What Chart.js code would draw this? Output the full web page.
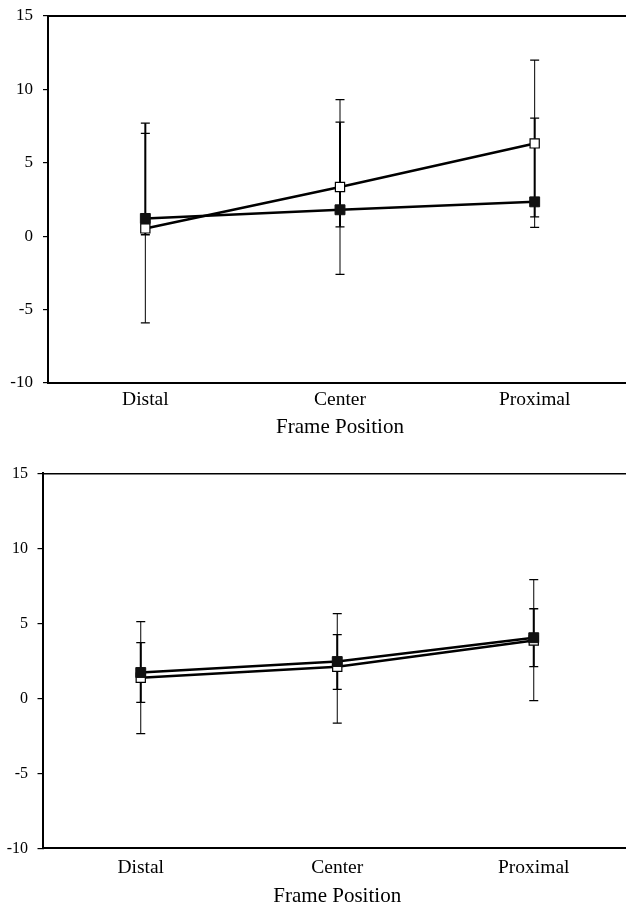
<!DOCTYPE html>
<html lang="en">
<head>
<meta charset="UTF-8">
<title>Frame Position</title>
<script src="https://cdn.jsdelivr.net/npm/chart.js"></script>
<style>
    html, body {
        margin: 0;
        padding: 0;
        background: #fff;
        overflow: hidden;
    }
    .wrap {
        position: relative;
        width: 626px;
        height: 907px;
        overflow: hidden;
    }
    canvas {
        position: absolute;
        left: 0;
    }
    #topChart { top: 0; }
    #bottomChart { top: 430px; }
</style>
</head>
<body>
<div class="wrap">
    <canvas id="topChart" width="640" height="450"></canvas>
    <canvas id="bottomChart" width="640" height="480"></canvas>
</div>

<script>
    // categories and y axis
    const positions = ['Distal', 'Center', 'Proximal'];
    const yMin = -10;
    const yMax = 15;
    const yStep = 5;

    // upper panel
    const topFilled = [1.21, 1.80, 2.34];
    const topFilledLow = [0.1, 0.64, 1.32];
    const topFilledHigh = [7.7, 7.77, 8.04];
    const topOpen = [0.53, 3.35, 6.32];
    const topOpenLow = [-5.9, -2.6, 0.6];
    const topOpenHigh = [7.0, 9.3, 12.0];

    // lower panel
    const botFilled = [1.72, 2.45, 4.04];
    const botFilledLow = [-0.27, 0.6, 2.11];
    const botFilledHigh = [3.71, 4.24, 5.97];
    const botOpen = [1.37, 2.1, 3.85];
    const botOpenLow = [-2.36, -1.65, -0.16];
    const botOpenHigh = [5.11, 5.64, 7.91];

    Chart.defaults.font.family = "'Liberation Serif', 'Times New Roman', serif";
    Chart.defaults.color = '#000';

    // vertical error bars with caps, drawn under the lines and markers
    const errorBars = {
        id: 'errorBars',
        beforeDatasetsDraw(chart) {
            const ctx = chart.ctx;
            const y = chart.scales.y;
            for (let i = chart.data.datasets.length - 1; i >= 0; i--) {
                const ds = chart.data.datasets[i];
                const meta = chart.getDatasetMeta(i);
                ctx.save();
                ctx.strokeStyle = '#000';
                meta.data.forEach((pt, j) => {
                    const lo = y.getPixelForValue(ds.errLow[j]);
                    const hi = y.getPixelForValue(ds.errHigh[j]);
                    ctx.lineWidth = ds.errWidth;
                    ctx.beginPath();
                    ctx.moveTo(pt.x, lo);
                    ctx.lineTo(pt.x, hi);
                    ctx.stroke();
                    ctx.lineWidth = 1.3;
                    ctx.beginPath();
                    ctx.moveTo(pt.x - 4.5, lo);
                    ctx.lineTo(pt.x + 4.5, lo);
                    ctx.moveTo(pt.x - 4.5, hi);
                    ctx.lineTo(pt.x + 4.5, hi);
                    ctx.stroke();
                });
                ctx.restore();
            }
        }
    };

    function makeChart(id, filled, fLow, fHigh, open, oLow, oHigh, s) {
        return new Chart(document.getElementById(id), {
            type: 'line',
            data: {
                labels: positions,
                datasets: [{
                    label: 'filled',
                    data: filled,
                    errLow: fLow,
                    errHigh: fHigh,
                    errWidth: 2,
                    borderColor: '#000',
                    borderWidth: 2.5,
                    tension: 0,
                    pointStyle: 'rect',
                    pointRadius: 7,
                    pointBackgroundColor: '#111',
                    pointBorderColor: '#111',
                    pointBorderWidth: 1
                }, {
                    label: 'open',
                    data: open,
                    errLow: oLow,
                    errHigh: oHigh,
                    errWidth: 1,
                    borderColor: '#000',
                    borderWidth: 2.5,
                    tension: 0,
                    pointStyle: 'rect',
                    pointRadius: 6.5,
                    pointBackgroundColor: '#fff',
                    pointBorderColor: '#000',
                    pointBorderWidth: 1.2
                }]
            },
            options: {
                responsive: false,
                animation: false,
                layout: { padding: { top: s.padTop, left: 0, right: s.padRight, bottom: s.padBottom } },
                plugins: {
                    legend: { display: false },
                    tooltip: { enabled: false }
                },
                scales: {
                    x: {
                        type: 'category',
                        offset: true,
                        grid: { display: false, drawTicks: false },
                        border: { color: '#000', width: 2 },
                        ticks: {
                            font: { size: 19.5 },
                            padding: s.xPad,
                            maxRotation: 0,
                            autoSkip: false
                        },
                        title: {
                            display: true,
                            text: 'Frame Position',
                            font: { size: 21 },
                            padding: 0
                        },
                        afterFit(scale) { scale.height = s.xHeight; }
                    },
                    xTop: {
                        type: 'category',
                        position: 'top',
                        offset: true,
                        grid: { display: false, drawTicks: false },
                        ticks: { display: false },
                        border: { color: '#000', width: s.topLine },
                        afterFit(scale) { scale.height = 0; }
                    },
                    y: {
                        min: yMin,
                        max: yMax,
                        grid: {
                            drawOnChartArea: false,
                            drawTicks: true,
                            tickLength: 5,
                            color: '#000',
                            lineWidth: 1.2
                        },
                        border: { color: '#000', width: 2 },
                        ticks: {
                            stepSize: yStep,
                            padding: s.yPad,
                            font: { size: s.yFont }
                        },
                        afterFit(scale) {
                            scale.width = s.yWidth;
                            scale.paddingTop = 0;
                            scale.paddingBottom = 0;
                        }
                    }
                }
            },
            plugins: [errorBars]
        });
    }

    makeChart('topChart', topFilled, topFilledLow, topFilledHigh, topOpen, topOpenLow, topOpenHigh, {
        padTop: 16, padRight: 8, padBottom: 10, xHeight: 57, xPad: 5.3,
        yWidth: 48, yPad: 10, yFont: 17, topLine: 2
    });

    makeChart('bottomChart', botFilled, botFilledLow, botFilledHigh, botOpen, botOpenLow, botOpenHigh, {
        padTop: 43.3, padRight: 7.5, padBottom: 0.7, xHeight: 61, xPad: 8.3,
        yWidth: 42.5, yPad: 9.5, yFont: 16, topLine: 1.5
    });
</script>
</body>
</html>
